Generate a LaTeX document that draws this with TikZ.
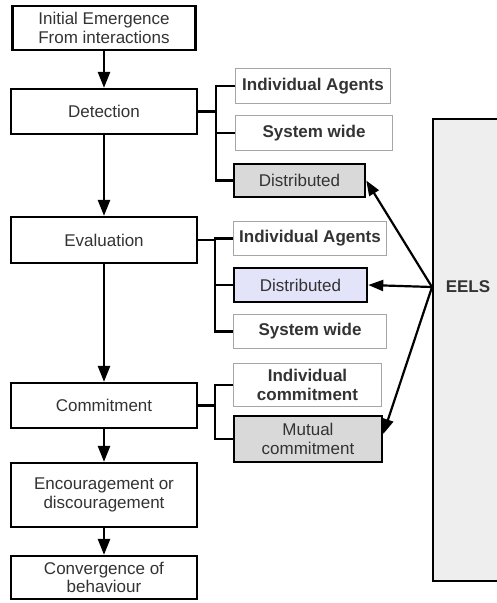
\documentclass[tikz,border=0pt]{standalone}
\usepackage{fontspec}
\setmainfont{Liberation Sans}
\usetikzlibrary{arrows.meta}
\definecolor{txt}{HTML}{333333}
\definecolor{thinline}{HTML}{A6A6A6}
\definecolor{grayfill}{HTML}{D9D9D9}
\definecolor{lavfill}{HTML}{E3E3FA}
\definecolor{eelsfill}{HTML}{EEEEEE}
\newcommand\myfs{\fontsize{17}{18.5}\selectfont}
\begin{document}
\begin{tikzpicture}[x=1pt,y=-1pt,
  every node/.style={font=\myfs, text=txt, align=center, inner sep=0pt},
  mainbox/.style={draw=black, line width=2.2pt, fill=white, minimum width=186pt},
  subbox/.style={draw=thinline, line width=1pt, fill=white, font=\myfs\bfseries},
  hotbox/.style={draw=black, line width=2.5pt},
  flowarrow/.style={draw=black, line width=2.4pt, -{Triangle[length=16pt,width=12pt]}},
  brline/.style={draw=black, line width=2.5pt},
  eelsarrow/.style={draw=black, line width=2.2pt, -{Triangle[length=15pt,width=11pt]}}
]
\useasboundingbox (0,0) rectangle (497,603);
% main column
\node[mainbox, minimum width=183pt, minimum height=44pt] (init) at (104,28) {Initial Emergence\\From interactions};
\node[mainbox, minimum height=45pt] (det) at (104,111.5) {Detection};
\node[mainbox, minimum height=46pt] (eval) at (104,240) {Evaluation};
\node[mainbox, minimum height=45pt] (comm) at (104,405.5) {Commitment};
\node[mainbox, minimum height=64pt] (enc) at (104,495) {Encouragement or\\discouragement};
\node[mainbox, minimum height=43pt] (conv) at (104,577.5) {Convergence of\\behaviour};
\draw[flowarrow] (init.south) -- (det.north);
\draw[flowarrow] (det.south) -- (eval.north);
\draw[flowarrow] (eval.south) -- (comm.north);
\draw[flowarrow] (comm.south) -- (enc.north);
\draw[flowarrow] (enc.south) -- (conv.north);
% detection sub boxes
\node[subbox, minimum width=155pt, minimum height=35pt] (dIA) at (313,86) {Individual Agents};
\node[subbox, minimum width=157pt, minimum height=35pt] (dSW) at (314,133) {System wide};
\node[hotbox, fill=grayfill, minimum width=131pt, minimum height=33pt] (dDi) at (299.5,180.5) {Distributed};
% evaluation sub boxes
\node[subbox, minimum width=153pt, minimum height=34pt] (eIA) at (310,238.5) {Individual Agents};
\node[hotbox, fill=lavfill, minimum width=133pt, minimum height=34pt] (eDi) at (300.5,285) {Distributed};
\node[subbox, minimum width=153pt, minimum height=34pt] (eSW) at (310,331.5) {System wide};
% commitment sub boxes
\node[subbox, minimum width=148pt, minimum height=43pt] (cIC) at (307.5,385) {Individual\\commitment};
\node[hotbox, fill=grayfill, minimum width=148pt, minimum height=46pt] (cMC) at (308,439) {Mutual\\commitment};
% brackets
\coordinate (db) at (216,0);
\coordinate (eb) at (215,0);
\coordinate (cb) at (215,0);
\draw[brline] (det.east) -- (det.east -| db);
\draw[brline] (dIA.west) -- (dIA.west -| db) |- (dDi.west);
\draw[brline] (dSW.west) -- (dSW.west -| db);
\draw[brline] (eval.east) -- (eval.east -| eb);
\draw[brline] (eIA.west) -- (eIA.west -| eb) |- (eSW.west);
\draw[brline] (eDi.west) -- (eDi.west -| eb);
\draw[brline] (comm.east) -- (comm.east -| cb);
\draw[brline] (cIC.west) -- (cIC.west -| cb) |- (cMC.west);
% EELS
\node[draw=black, line width=2.2pt, fill=eelsfill, minimum width=72pt, minimum height=462pt, anchor=north west] (eels) at (432,118) {};
\node[font=\myfs\bfseries] (eelst) at (468,287) {EELS};
\coordinate (src) at (eels.west |- eelst);
\draw[eelsarrow] (src) -- (dDi.east);
\draw[eelsarrow] (src) -- (eDi.east);
\draw[eelsarrow] (src) -- ([yshift=5pt]cMC.east);
\end{tikzpicture}
\end{document}
